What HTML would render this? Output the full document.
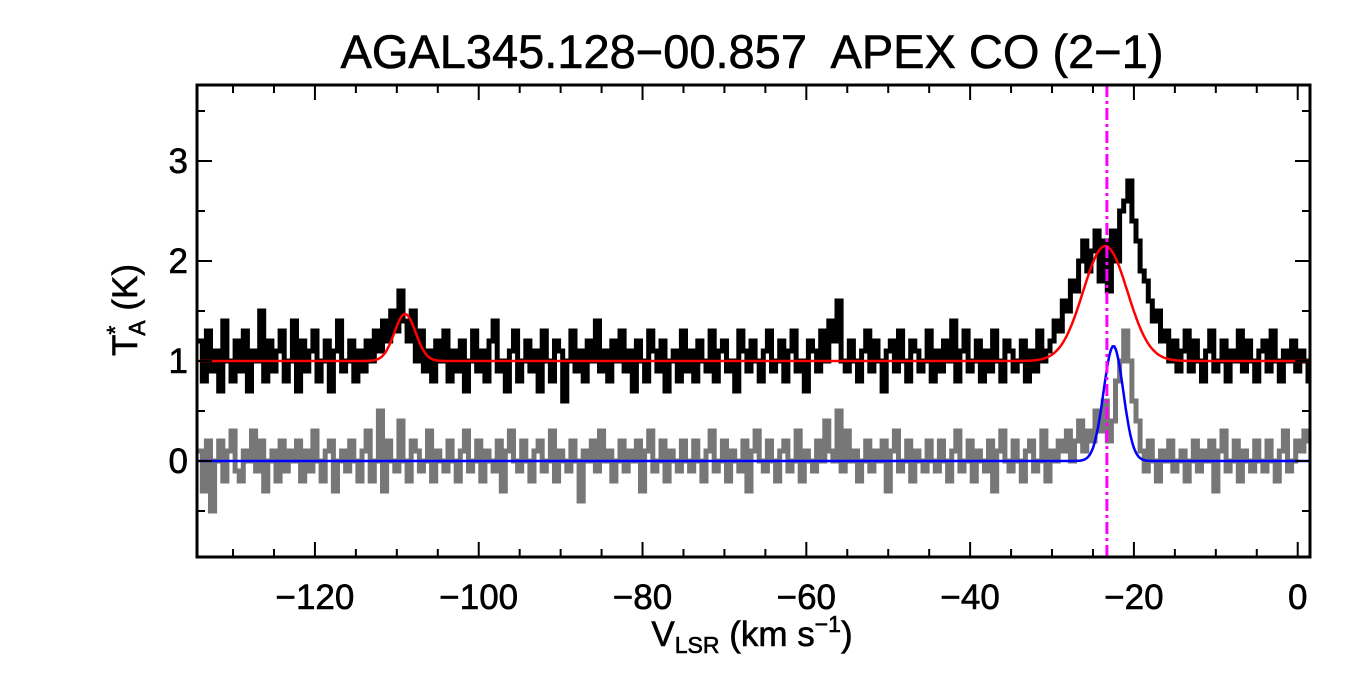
<!DOCTYPE html>
<html><head><meta charset="utf-8"><style>
html,body{margin:0;padding:0;background:#fff;}
svg{display:block;font-family:"Liberation Sans",Arial,sans-serif;}
text{stroke:#000;stroke-width:0.6;}
</style></head><body>
<svg id="chart" width="1350" height="675" viewBox="0 0 1350 675">
<text x="752" y="68" font-size="47" text-anchor="middle" xml:space="preserve">AGAL345.128−00.857  APEX CO (2−1)</text>
<g id="plot"></g>
<g id="axes"></g>
<text x="752" y="646" font-size="35" text-anchor="middle">V<tspan font-size="23" dy="7">LSR</tspan><tspan dy="-7"> (km s</tspan><tspan font-size="23" dy="-14">−1</tspan><tspan dy="14">)</tspan></text>
<text transform="translate(137,310) rotate(-90)" font-size="35" text-anchor="middle">T<tspan font-size="23" dy="-14">*</tspan><tspan font-size="23" dx="-10" dy="22">A</tspan><tspan dy="-8"> (K)</tspan></text>
</svg>
<script>
const velStart = -134;
const velStep = 0.5;
const blackData = [1.2,0.8,1.3,0.9,1.1,0.7,1.4,1.0,0.8,1.2,0.9,1.3,0.7,1.1,1.0,1.5,0.8,1.2,0.9,1.1,
1.3,0.8,1.0,1.4,0.7,1.2,0.9,1.1,1.3,0.8,1.0,1.2,0.7,1.1,1.4,0.9,1.0,1.2,0.8,1.1,
0.9,1.2,1.0,1.3,1.1,1.4,1.2,1.5,1.3,1.7,1.4,1.2,1.5,1.0,1.3,0.9,1.1,0.8,1.2,1.0,
1.3,0.8,1.1,0.9,1.2,0.7,1.0,1.3,0.9,1.1,0.8,1.2,1.4,0.9,1.0,0.7,1.1,1.3,0.8,1.0,
1.2,0.9,1.1,0.7,1.3,1.0,0.8,1.2,1.1,0.6,1.0,1.3,0.9,1.1,0.8,1.2,1.0,1.4,0.9,1.1,
0.8,1.2,1.0,1.3,0.9,1.1,0.7,1.2,1.0,0.8,1.3,1.1,0.9,1.2,0.7,1.0,1.1,0.8,1.3,0.9,
1.1,0.8,1.2,1.0,0.9,1.3,0.8,1.1,1.2,0.9,1.0,0.7,1.3,1.1,0.9,1.2,1.0,0.8,1.1,1.3,
0.9,1.0,1.2,0.8,1.1,1.3,0.9,1.0,0.7,1.2,1.1,0.9,1.3,1.0,1.4,1.2,1.6,1.0,0.9,1.2,
1.0,0.8,1.1,1.3,0.9,1.2,1.0,0.7,1.1,1.2,0.9,1.3,1.0,0.8,1.2,1.1,0.9,1.0,1.3,0.8,
1.1,0.9,1.2,1.0,1.4,0.8,1.1,1.3,0.9,1.0,1.2,0.8,1.1,0.9,1.3,1.0,0.8,1.2,1.1,0.9,
1.0,1.2,0.8,1.1,0.9,1.3,1.0,1.1,1.2,1.4,1.3,1.6,1.5,1.8,1.7,2.0,2.2,1.9,2.1,2.3,
1.8,2.2,1.7,2.3,2.0,2.5,2.6,2.8,2.4,2.2,1.9,1.8,1.6,1.4,1.5,1.2,1.3,1.0,1.2,0.9,
1.1,1.3,0.9,1.2,1.0,0.8,1.1,1.3,0.9,1.0,1.2,0.8,1.1,1.0,1.3,0.9,1.2,1.0,0.8,1.1,
1.2,0.9,1.3,1.0,0.8,1.1,1.0,1.2,0.9,1.1,1.0,0.8];
const grayData = [0.1,-0.3,0.2,-0.5,0.0,0.2,-0.2,0.1,0.3,-0.1,-0.2,0.1,0.0,0.3,-0.1,0.2,-0.3,0.0,0.1,-0.2,
0.2,-0.1,0.1,0.0,0.2,-0.2,0.1,-0.1,0.3,0.0,-0.2,0.1,0.2,-0.3,0.0,0.1,-0.1,0.2,0.0,-0.2,
0.1,0.3,-0.2,0.0,0.5,-0.3,0.2,0.0,-0.1,0.4,0.0,-0.2,0.2,0.1,-0.1,0.0,0.3,-0.2,0.1,0.0,
-0.1,0.2,0.0,-0.2,0.1,0.3,-0.1,0.0,0.2,-0.2,0.1,0.0,-0.1,0.2,-0.3,0.1,0.3,0.0,-0.1,0.2,
0.0,-0.2,0.1,0.2,-0.1,0.0,0.3,-0.2,0.1,0.0,-0.1,0.2,0.0,-0.4,0.1,0.0,0.2,-0.1,0.3,0.0,
0.1,-0.2,0.0,0.2,-0.1,0.1,0.0,0.2,-0.3,0.1,0.3,-0.1,0.0,0.2,-0.2,0.1,0.0,-0.1,0.2,0.0,
-0.1,0.2,0.0,-0.2,0.1,0.3,-0.1,0.0,0.2,-0.2,0.1,0.0,-0.1,0.2,-0.3,0.1,0.3,0.0,-0.1,0.2,
0.0,-0.2,0.1,0.2,-0.1,0.0,0.3,-0.2,0.1,0.0,-0.1,0.2,0.0,0.4,0.1,0.0,0.5,-0.1,0.3,0.0,
0.1,-0.2,0.0,0.2,-0.1,0.1,0.0,0.2,-0.3,0.1,0.3,-0.1,0.0,0.2,-0.2,0.1,0.0,-0.1,0.2,0.0,
-0.1,0.2,0.0,-0.2,0.1,0.3,-0.1,0.0,0.2,-0.2,0.1,0.0,-0.1,0.2,-0.3,0.1,0.3,0.0,-0.1,0.2,
0.0,-0.2,0.1,0.2,-0.1,0.0,0.3,-0.2,0.1,0.0,0.2,0.1,0.3,0.0,0.2,0.4,0.1,0.3,0.2,0.5,
0.3,0.6,0.2,0.4,0.8,1.0,1.3,1.0,0.6,0.4,0.1,-0.1,0.2,0.0,-0.2,0.1,0.0,0.2,-0.1,0.0,
0.1,-0.2,0.0,0.2,-0.1,0.1,0.0,0.2,-0.3,0.1,0.3,-0.1,0.0,0.2,-0.2,0.1,0.0,-0.1,0.2,0.0,
-0.1,0.2,0.0,-0.2,0.1,0.3,-0.1,0.0,0.2,0.1,0.3,0.2];
const redFit = [1.0, 0.47,-109,1.3, 1.15,-23.5,2.7]; // base, amp1, cen1, sig1, amp2, cen2, sig2
const blueFit = [1.15,-22.5,1.2];
const vMarker = -23.3;
const xTicks = [-120,-100,-80,-60,-40,-20,0];
const yTicks = [0,1,2,3];

const X0=197,X1=1310,Y0=85,Y1=557,VMIN=-134.4,VMAX=1.5,TMIN=-0.96,TMAX=3.76;
const xs=v=>X0+(v-VMIN)/(VMAX-VMIN)*(X1-X0);
const ys=t=>Y1-(t-TMIN)/(TMAX-TMIN)*(Y1-Y0);
const NS='http://www.w3.org/2000/svg';
const plot=document.getElementById('plot'), axes=document.getElementById('axes');
function mk(tag,attrs,parent){const e=document.createElementNS(NS,tag);for(const k in attrs)e.setAttribute(k,attrs[k]);parent.appendChild(e);return e;}
function stepPath(data){let d='';data.forEach((t,i)=>{const v=velStart+i*velStep;const a=xs(Math.max(v-velStep/2,VMIN)),b=xs(Math.min(v+velStep/2,VMAX));d+=(i?'L':'M')+a.toFixed(1)+','+ys(t).toFixed(1)+'L'+b.toFixed(1)+','+ys(t).toFixed(1);});return d;}
const g=(v,c,s)=>Math.exp(-0.5*((v-c)/s)**2);
function curve(f){let d='';const n=Math.ceil((VMAX-VMIN)/0.2);for(let i=0;i<=n;i++){const v=Math.min(VMIN+i*0.2,VMAX);d+=(d?'L':'M')+xs(v).toFixed(1)+','+ys(f(v)).toFixed(1);}return d;}

let e;
e=mk('path',{d:stepPath(grayData),fill:'none',stroke:'#777','stroke-width':5},plot);


e=mk('path',{d:stepPath(blackData),fill:'none',stroke:'#000','stroke-width':5},plot);


e=mk('path',{d:curve(v=>redFit[0]+redFit[1]*g(v,redFit[2],redFit[3])+redFit[4]*g(v,redFit[5],redFit[6])),fill:'none',stroke:'#f00','stroke-width':2.5},plot);


e=mk('path',{d:curve(v=>blueFit[0]*g(v,blueFit[1],blueFit[2])),fill:'none',stroke:'#00f','stroke-width':2.5},plot);


e=mk('line',{x1:xs(vMarker),x2:xs(vMarker),y1:Y0,y2:Y1,stroke:'#f0f','stroke-width':3,'stroke-dasharray':'12,4,3,4'},plot);



e=mk('rect',{x:X0,y:Y0,width:X1-X0,height:Y1-Y0,fill:'none',stroke:'#000','stroke-width':3},axes);


for(let v=-130;v<=0;v+=5){const x=xs(v),L=(v%20===0)?15:8;
 mk('line',{x1:x,x2:x,y1:Y1,y2:Y1-L,stroke:'#000','stroke-width':2},axes);
 mk('line',{x1:x,x2:x,y1:Y0,y2:Y0+L,stroke:'#000','stroke-width':2},axes);}
for(let t=-0.5;t<=3.5;t+=0.5){const y=ys(t),L=(Math.abs(t%1)<1e-6)?15:8;
 mk('line',{x1:X0,x2:X0+L,y1:y,y2:y,stroke:'#000','stroke-width':2},axes);
 mk('line',{x1:X1,x2:X1-L,y1:y,y2:y,stroke:'#000','stroke-width':2},axes);}
xTicks.forEach(v=>{const t=mk('text',{x:xs(v),y:609,'font-size':35,'text-anchor':'middle'},axes);t.textContent=v<0?'−'+(-v):String(v);
 
 });
yTicks.forEach(v=>{const t=mk('text',{x:188,y:ys(v)+12,'font-size':35,'text-anchor':'end'},axes);t.textContent=String(v);
 
 });
</script>
</body></html>
